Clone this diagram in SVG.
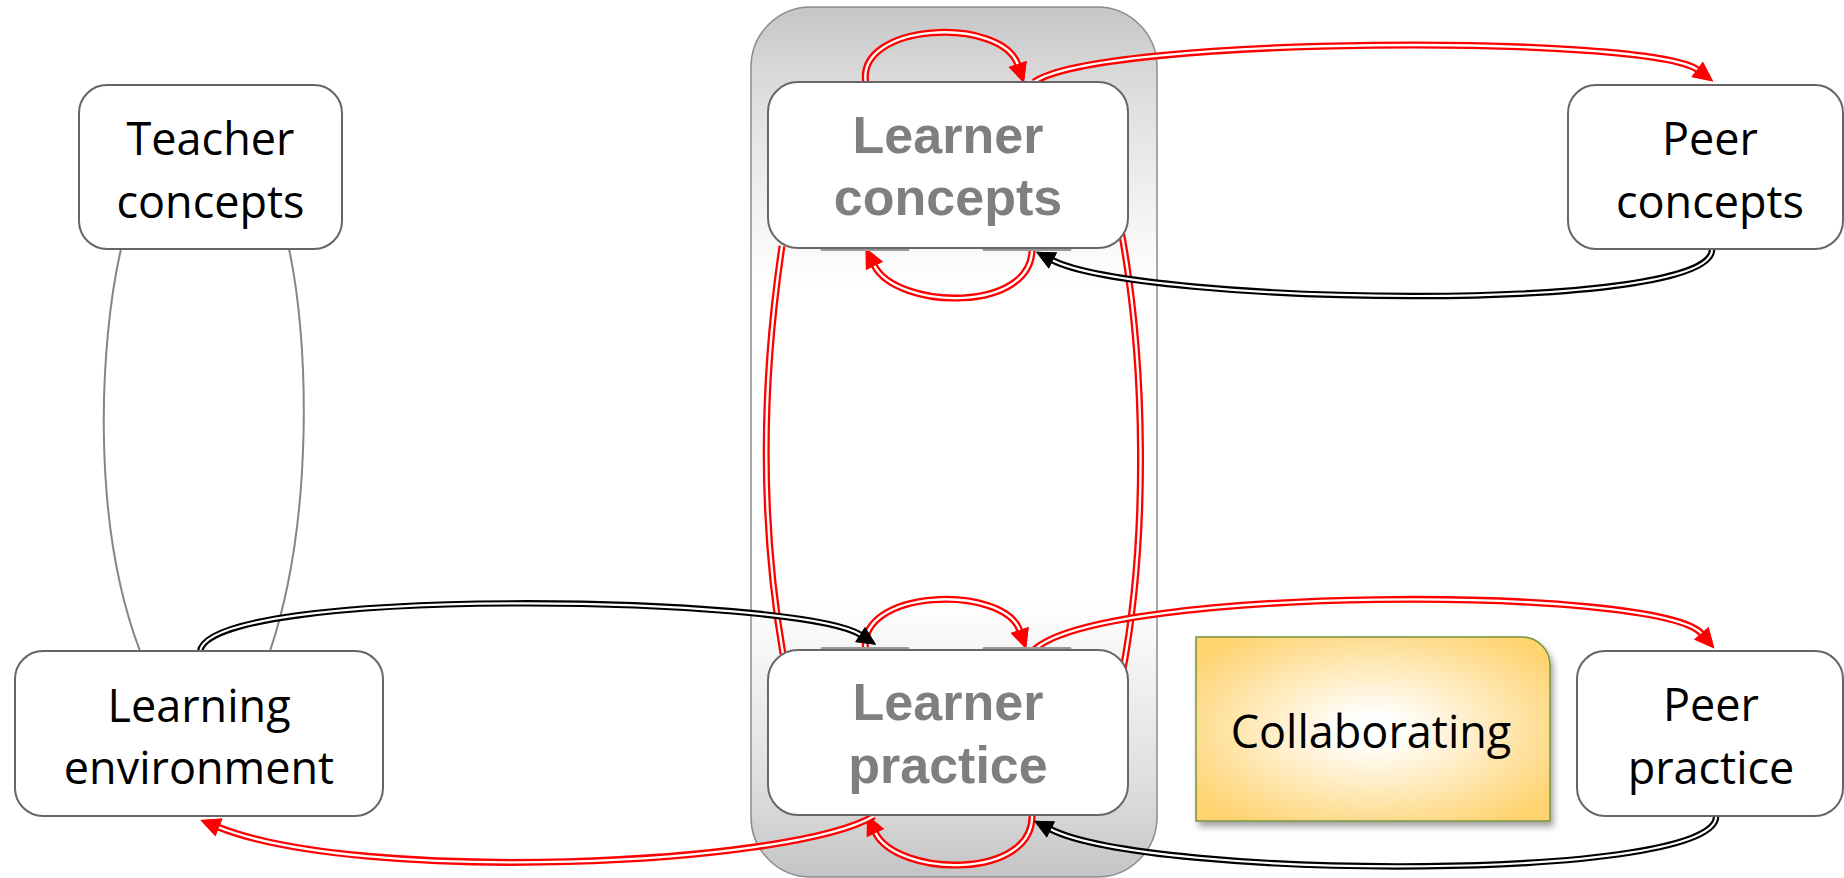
<svg xmlns="http://www.w3.org/2000/svg" width="1844" height="878" viewBox="0 0 1844 878">
  <style>
    .box { fill: #ffffff; stroke: #666666; stroke-width: 2; }
    .txt { font-family: "Open Sans", "Liberation Sans", sans-serif; font-size: 45px; fill: #000000; text-anchor: middle; }
    .btxt { font-family: "Liberation Sans", Arial, sans-serif; font-weight: bold; font-size: 52px; fill: #7f7f7f; text-anchor: middle; }
    .lens { fill: none; stroke: #858585; stroke-width: 2; }
    .r-out { fill: none; stroke: #ff0000; stroke-width: 7; marker-end: url(#ahRed); }
    .r-in { fill: none; stroke: #ffffff; stroke-width: 2.4; marker-end: url(#ahRed); }
    .r-out-plain { fill: none; stroke: #ff0000; stroke-width: 7; }
    .r-in-plain { fill: none; stroke: #ffffff; stroke-width: 2.4; }
    .k-out { fill: none; stroke: #000000; stroke-width: 6.5; marker-end: url(#ahBlk); }
    .k-in { fill: none; stroke: #ffffff; stroke-width: 2.2; marker-end: url(#ahBlk); }
    .stub { fill: none; stroke: #9a9a9a; stroke-width: 3; stroke-linecap: round; }
  </style>
  <defs>
    <linearGradient id="gContainer" x1="0" y1="0" x2="0" y2="1">
      <stop offset="0" stop-color="#c6c6c6"/>
      <stop offset="0.1" stop-color="#dedede"/>
      <stop offset="0.32" stop-color="#ffffff"/>
      <stop offset="0.68" stop-color="#ffffff"/>
      <stop offset="0.9" stop-color="#dddddd"/>
      <stop offset="1" stop-color="#c4c4c4"/>
    </linearGradient>
    <radialGradient id="gCollab" cx="0.5" cy="0.5" r="0.62">
      <stop offset="0.12" stop-color="#ffffff"/>
      <stop offset="1" stop-color="#ffd370"/>
    </radialGradient>
    <filter id="shadow" x="-10%" y="-10%" width="125%" height="130%">
      <feDropShadow dx="3" dy="5" stdDeviation="3" flood-color="#000000" flood-opacity="0.35"/>
    </filter>
    <marker id="ahRed" markerUnits="userSpaceOnUse" markerWidth="22" markerHeight="22" refX="1" refY="9.5" orient="auto" overflow="visible">
      <path d="M0,0 L20,9.5 L0,19 z" fill="#ff0000"/>
    </marker>
    <marker id="ahBlk" markerUnits="userSpaceOnUse" markerWidth="22" markerHeight="22" refX="1" refY="9" orient="auto" overflow="visible">
      <path d="M0,0 L19,9 L0,18 z" fill="#000000"/>
    </marker>
  </defs>

  <!-- learner container -->
  <g id="learner-group">
    <rect x="751" y="7" width="406" height="870" rx="60" fill="url(#gContainer)" stroke="#8c8c8c" stroke-width="1.5"/>
  </g>

  <g id="connectors">
    <!-- teacher concepts / learning environment -->
    <path class="lens" d="M121,249 C100,340 90,520 140,651"/>
    <path class="lens" d="M289,249 C309,340 314,520 270,651"/>

    <!-- learner concepts ↔ learner practice (verticals) -->
    <path class="r-out-plain" d="M782,246 C762,380 760,520 783,654"/>
    <path class="r-in-plain" d="M782,246 C762,380 760,520 783,654"/>
    <path class="r-out-plain" d="M1120,225 C1146,360 1148,540 1122,675"/>
    <path class="r-in-plain" d="M1120,225 C1146,360 1148,540 1122,675"/>

    <!-- learner concepts self loops -->
    <path class="r-out" d="M866,84 C854,22 1002,16 1018,65"/>
    <path class="r-in" d="M866,84 C854,22 1002,16 1018,65"/>
    <path class="r-out" d="M1032,246 C1036,314 896,310 874,265"/>
    <path class="r-in" d="M1032,246 C1036,314 896,310 874,265"/>

    <!-- learner practice self loops -->
    <path class="r-out" d="M866,652 C854,588 1004,584 1020,631"/>
    <path class="r-in" d="M866,652 C854,588 1004,584 1020,631"/>
    <path class="r-out" d="M1032,813 C1036,881 896,877 875,832"/>
    <path class="r-in" d="M1032,813 C1036,881 896,877 875,832"/>

    <!-- learner concepts → peer concepts -->
    <path class="r-out" d="M1034,82 C1100,36 1650,34 1698,70"/>
    <path class="r-in" d="M1034,82 C1100,36 1650,34 1698,70"/>
    <!-- peer concepts → learner concepts -->
    <path class="k-out" d="M1712,248 C1720,315 1140,305 1052,260"/>
    <path class="k-in" d="M1712,248 C1720,315 1140,305 1052,260"/>

    <!-- learning environment → learner practice -->
    <path class="k-out" d="M200,652 C205,585 800,595 861,635"/>
    <path class="k-in" d="M200,652 C205,585 800,595 861,635"/>
    <!-- learner practice → learning environment -->
    <path class="r-out" d="M874,816 C790,866 360,884 218,827"/>
    <path class="r-in" d="M874,816 C790,866 360,884 218,827"/>

    <!-- learner practice → peer practice -->
    <path class="r-out" d="M1034,650 C1100,586 1660,585 1702,634"/>
    <path class="r-in" d="M1034,650 C1100,586 1660,585 1702,634"/>
    <!-- peer practice → learner practice -->
    <path class="k-out" d="M1716,815 C1725,882 1150,880 1050,829"/>
    <path class="k-in" d="M1716,815 C1725,882 1150,880 1050,829"/>

    <!-- hidden connector stubs along the learner boxes -->
    <path class="stub" d="M822,249.5 L908,249.5 M984,249.5 L1070,249.5"/>
    <path class="stub" d="M822,648.5 L908,648.5 M984,648.5 L1070,648.5"/>
  </g>

  <g id="teacher-concepts">
    <rect class="box" x="79" y="85" width="263" height="164" rx="28"/>
    <text class="txt" x="210.5" y="155">Teacher</text>
    <text class="txt" x="210.5" y="218">concepts</text>
  </g>

  <g id="learner-concepts">
    <rect class="box" x="768" y="82" width="360" height="166" rx="30"/>
    <text class="btxt" x="948" y="153">Learner</text>
    <text class="btxt" x="948" y="215">concepts</text>
  </g>

  <g id="peer-concepts">
    <rect class="box" x="1568" y="85" width="275" height="164" rx="28"/>
    <text class="txt" x="1710" y="155">Peer</text>
    <text class="txt" x="1710" y="218">concepts</text>
  </g>

  <g id="learning-environment">
    <rect class="box" x="15" y="651" width="368" height="165" rx="28"/>
    <text class="txt" x="199" y="722">Learning</text>
    <text class="txt" x="199" y="784">environment</text>
  </g>

  <g id="learner-practice">
    <rect class="box" x="768" y="650" width="360" height="165" rx="30"/>
    <text class="btxt" x="948" y="720">Learner</text>
    <text class="btxt" x="948" y="783">practice</text>
  </g>

  <g id="collaborating">
    <path d="M1196,637 L1522,637 A28,28 0 0 1 1550,665 L1550,821 L1196,821 Z" fill="url(#gCollab)" stroke="#77933c" stroke-width="1.5" filter="url(#shadow)"/>
    <text class="txt" x="1371" y="748">Collaborating</text>
  </g>

  <g id="peer-practice">
    <rect class="box" x="1577" y="651" width="266" height="165" rx="28"/>
    <text class="txt" x="1711" y="721">Peer</text>
    <text class="txt" x="1711" y="784">practice</text>
  </g>
</svg>
